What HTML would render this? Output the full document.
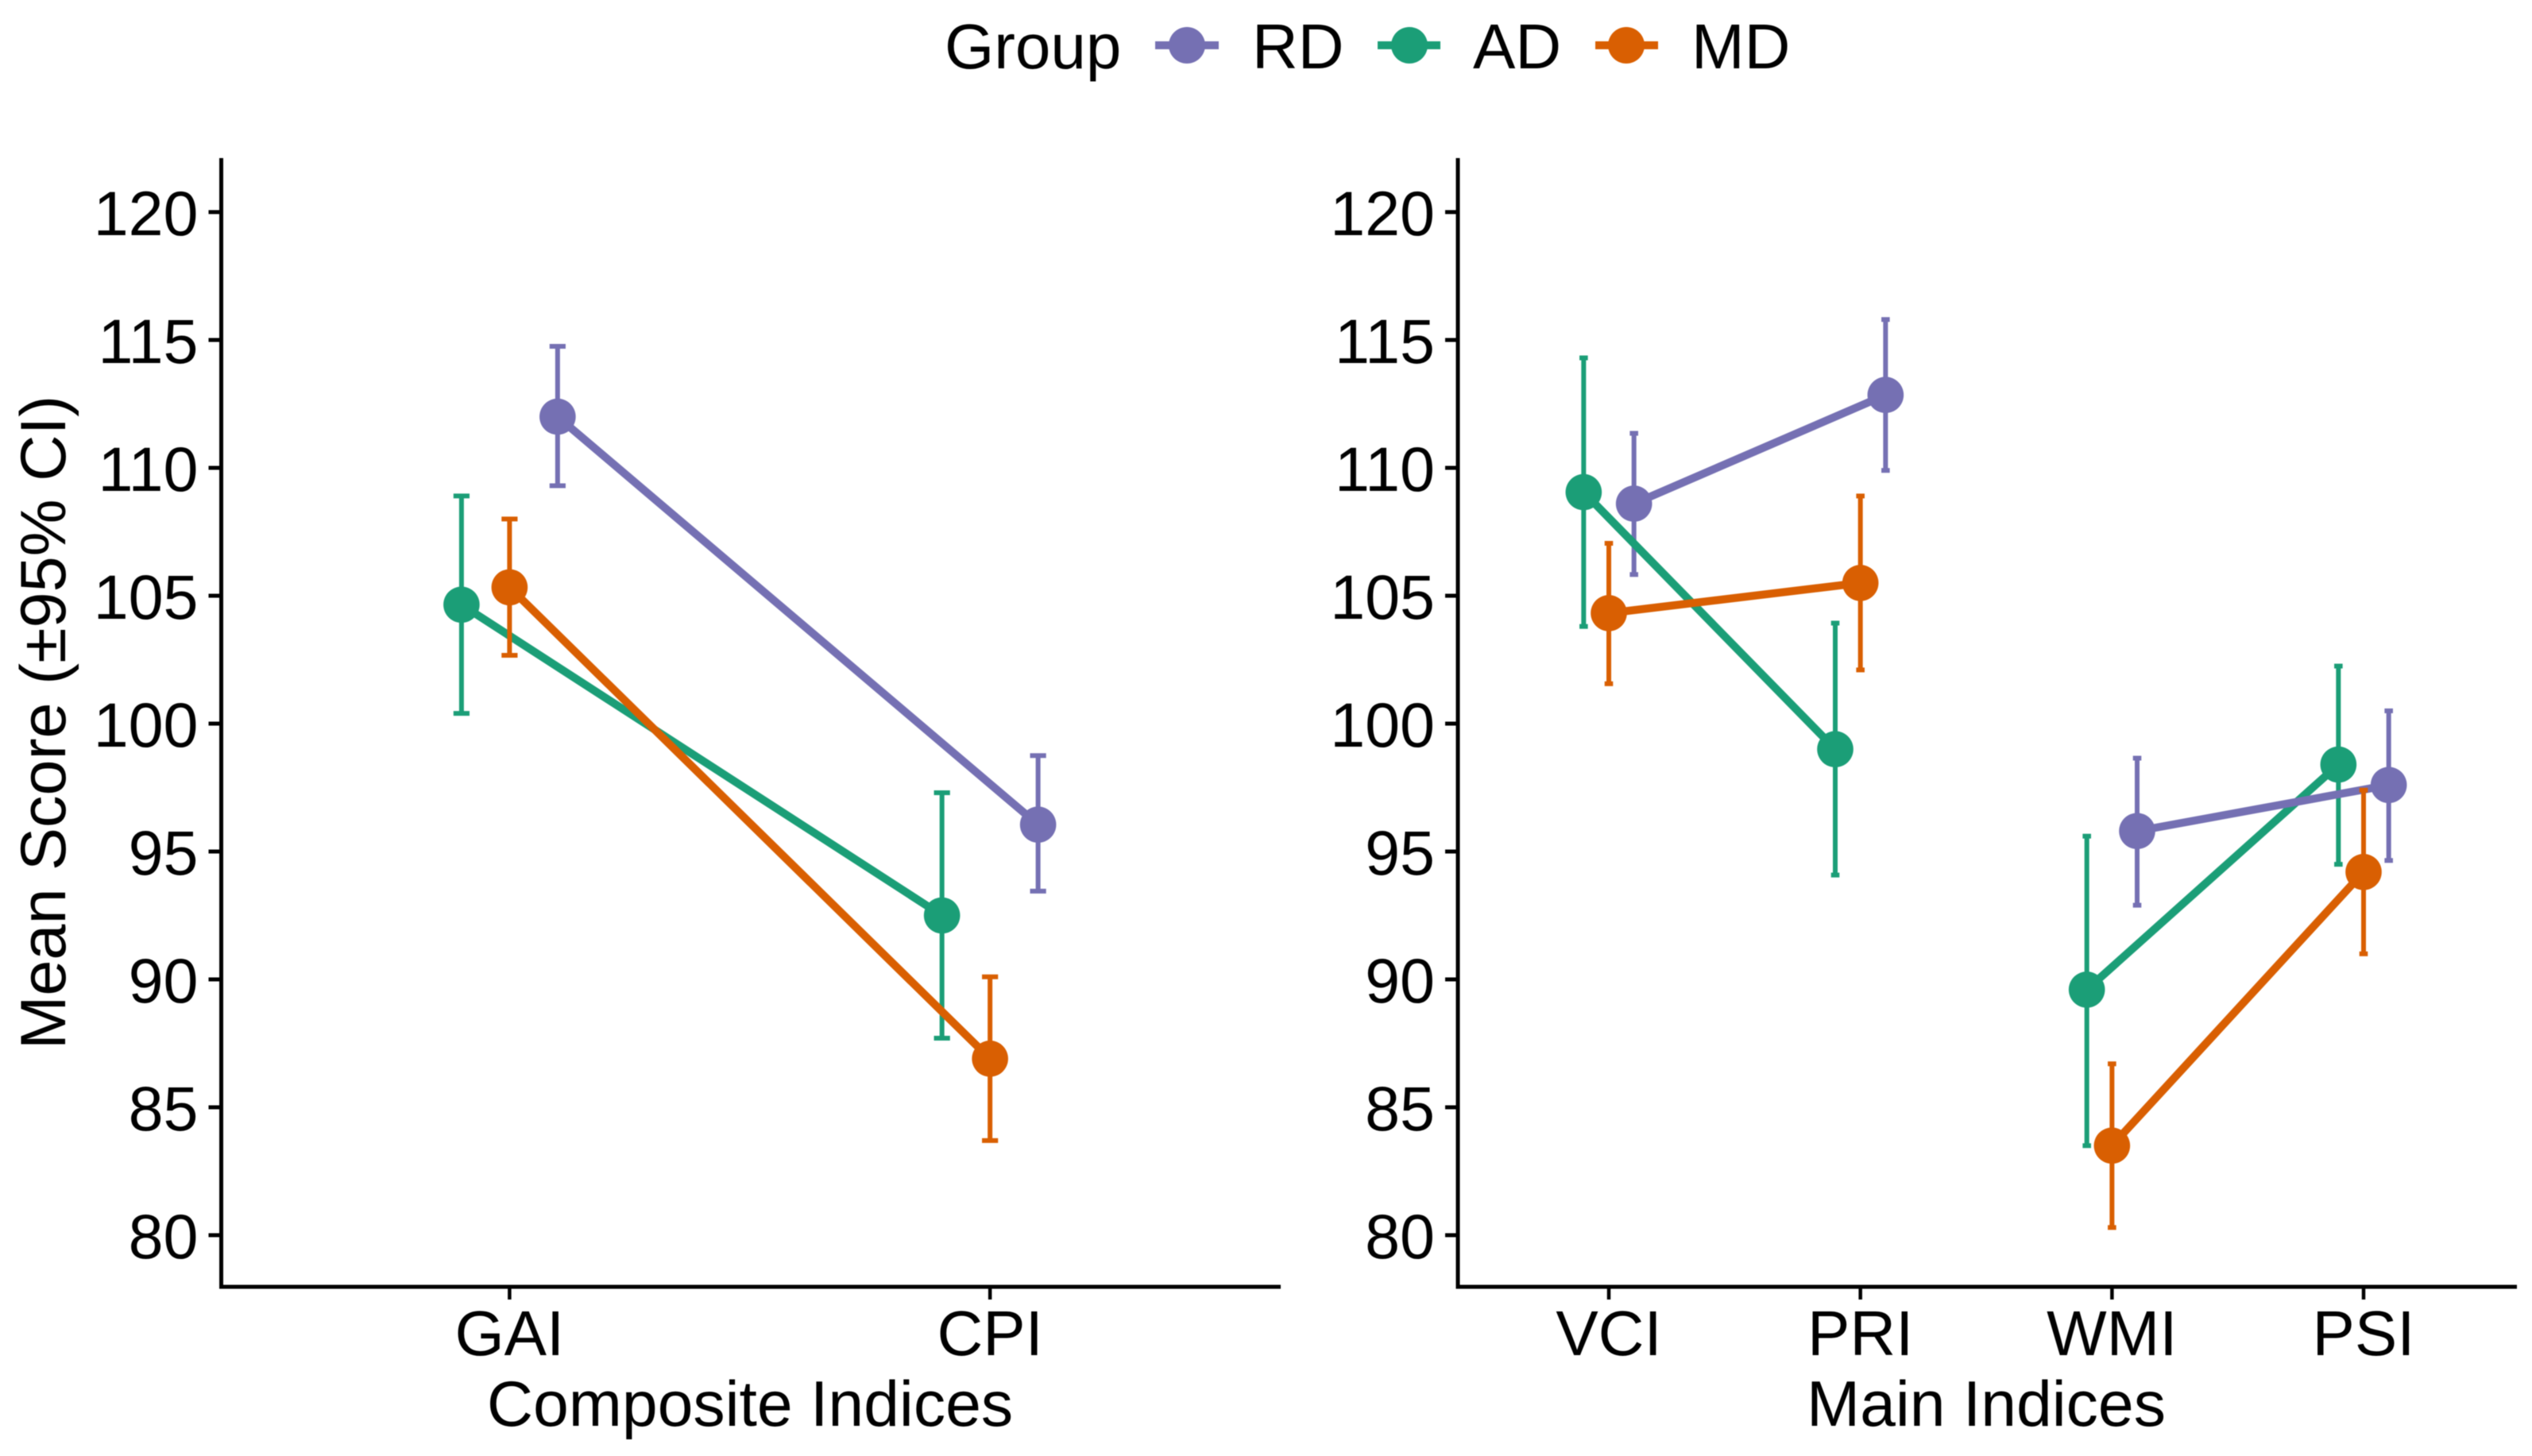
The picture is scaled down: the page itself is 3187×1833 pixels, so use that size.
<!DOCTYPE html>
<html lang="en">
<head>
<meta charset="utf-8">
<title>Mean Score by Group</title>
<style>
html,body{margin:0;padding:0;background:#fff;width:3187px;height:1833px;overflow:hidden}
svg{display:block;filter:blur(0.6px)}
text{font-family:"Liberation Sans",Arial,sans-serif;fill:#000;font-size:80px}
</style>
</head>
<body>
<svg id="chart" xmlns="http://www.w3.org/2000/svg" width="3187" height="1833" viewBox="0 0 3187 1833">
  <rect x="0" y="0" width="3187" height="1833" fill="#ffffff"/>
  <g>
    <text x="1189" y="86">Group</text>
    <g>
      <line x1="1454" x2="1534" y1="57" y2="57" stroke="#7570B3" stroke-width="10"/>
      <circle cx="1494" cy="57" r="23" fill="#7570B3"/>
      <text x="1576" y="86">RD</text>
    </g>
    <g>
      <line x1="1734" x2="1813" y1="57" y2="57" stroke="#1B9E77" stroke-width="10"/>
      <circle cx="1774" cy="57" r="23" fill="#1B9E77"/>
      <text x="1854" y="86">AD</text>
    </g>
    <g>
      <line x1="2008" x2="2087" y1="57" y2="57" stroke="#D95F02" stroke-width="10"/>
      <circle cx="2047" cy="57" r="23" fill="#D95F02"/>
      <text x="2129" y="86">MD</text>
    </g>
  </g>
  <text transform="translate(82,909.5) rotate(-90)" text-anchor="middle" style="font-size:81px">Mean Score (±95% CI)</text>
  <text x="944" y="1795" text-anchor="middle" style="font-size:80.5px">Composite Indices</text>
  <text x="2500" y="1795" text-anchor="middle" style="font-size:80.5px">Main Indices</text>
</svg>
<script>
const yTickValues = [80, 85, 90, 95, 100, 105, 110, 115, 120];

const compositeCategories = ['GAI', 'CPI'];
const compositeConnections = [[0, 1]];
const rdCompositeMean = [112.0, 96.05];
const rdCompositeLow = [109.3, 93.45];
const rdCompositeHigh = [114.75, 98.75];
const adCompositeMean = [104.65, 92.5];
const adCompositeLow = [100.4, 87.7];
const adCompositeHigh = [108.9, 97.3];
const mdCompositeMean = [105.33, 86.9];
const mdCompositeLow = [102.67, 83.7];
const mdCompositeHigh = [108.0, 90.1];

const mainCategories = ['VCI', 'PRI', 'WMI', 'PSI'];
const mainConnections = [[0, 1], [2, 3]];
const rdMainMean = [108.6, 112.85, 95.8, 97.6];
const rdMainLow = [105.83, 109.9, 92.9, 94.65];
const rdMainHigh = [111.35, 115.8, 98.65, 100.5];
const adMainMean = [109.05, 99.0, 89.6, 98.4];
const adMainLow = [103.8, 94.08, 83.5, 94.5];
const adMainHigh = [114.3, 103.93, 95.6, 102.25];
const mdMainMean = [104.32, 105.5, 83.5, 94.2];
const mdMainLow = [101.56, 102.1, 80.3, 91.0];
const mdMainHigh = [107.05, 108.9, 86.7, 97.4];

const svg = document.getElementById('chart');
const NS = 'http://www.w3.org/2000/svg';
const INK = '#000000';
const PLOT_TOP = 199, PLOT_BOTTOM = 1620;
const Y_AT_120 = 267, PX_PER_UNIT = 32.2;

function yScale(v) { return Y_AT_120 + (120 - v) * PX_PER_UNIT; }

function makeBandScale(left, right, count) {
  const unit = (right - left) / (count - 1 + 1.2);
  const scale = function (index, dodge) { return left + (index + 0.6 + dodge) * unit; };
  scale.unit = unit;
  return scale;
}

function shape(parent, tag, attrs) {
  const node = document.createElementNS(NS, tag);
  for (const key in attrs) node.setAttribute(key, attrs[key]);
  parent.appendChild(node);
  return node;
}

function drawAxes(root, panel, left, right, categories, xScale) {
  const yLine = shape(root, 'line', { x1: left, x2: left, y1: PLOT_TOP, y2: PLOT_BOTTOM + 2.5, stroke: INK, 'stroke-width': 5 });
  
  
  const xLine = shape(root, 'line', { x1: left - 2.5, x2: right, y1: PLOT_BOTTOM, y2: PLOT_BOTTOM, stroke: INK, 'stroke-width': 5 });
  
  
  yTickValues.forEach(function (value) {
    const y = yScale(value);
    const tick = shape(root, 'line', { x1: left - 16, x2: left, y1: y, y2: y, stroke: INK, 'stroke-width': 5 });
    
    
    const label = shape(root, 'text', { x: left - 29, y: y + 29, 'text-anchor': 'end', style: 'font-size:79px' });
    label.textContent = value;
    
    
  });
  categories.forEach(function (category, i) {
    const x = xScale(i, 0);
    const tick = shape(root, 'line', { x1: x, x2: x, y1: PLOT_BOTTOM, y2: PLOT_BOTTOM + 16, stroke: INK, 'stroke-width': 4.5 });
    
    
    const label = shape(root, 'text', { x: x, y: 1706, 'text-anchor': 'middle' });
    label.textContent = category;
    
    
  });
}

function drawBars(root, panel, series, xScale, categories) {
  const capHalf = xScale.unit * 0.0167;
  series.low.forEach(function (low, i) {
    const high = series.high[i];
    const x = xScale(i, series.dodge);
    const id = panel + '-' + series.name + '-' + categories[i].toLowerCase();
    const bar = shape(root, 'line', { x1: x, x2: x, y1: yScale(high), y2: yScale(low), stroke: series.color, 'stroke-width': 6 });
    
    
    const capTop = shape(root, 'line', { x1: x - capHalf, x2: x + capHalf, y1: yScale(high), y2: yScale(high), stroke: series.color, 'stroke-width': 6 });
    
    
    const capBottom = shape(root, 'line', { x1: x - capHalf, x2: x + capHalf, y1: yScale(low), y2: yScale(low), stroke: series.color, 'stroke-width': 6 });
    
    
  });
}

function drawLines(root, panel, series, xScale, connections, categories) {
  connections.forEach(function (pair) {
    const a = pair[0], b = pair[1];
    const line = shape(root, 'line', {
      x1: xScale(a, series.dodge), y1: yScale(series.mean[a]),
      x2: xScale(b, series.dodge), y2: yScale(series.mean[b]),
      stroke: series.color, 'stroke-width': 10
    });
    
    
  });
}

function drawPoints(root, panel, series, xScale, categories) {
  series.mean.forEach(function (value, i) {
    const point = shape(root, 'circle', { cx: xScale(i, series.dodge), cy: yScale(value), r: 22.8, fill: series.color });
    
    
  });
}

function drawPanel(panel, left, scaleRight, axisRight, categories, connections, rd, ad, md) {
  const root = shape(svg, 'g', {});
  
  
  const xScale = makeBandScale(left, scaleRight, categories.length);
  drawAxes(root, panel, left, axisRight, categories, xScale);
  drawBars(root, panel, rd, xScale, categories);
  drawBars(root, panel, ad, xScale, categories);
  drawLines(root, panel, ad, xScale, connections, categories);
  drawLines(root, panel, rd, xScale, connections, categories);
  drawBars(root, panel, md, xScale, categories);
  drawLines(root, panel, md, xScale, connections, categories);
  [rd, ad, md].forEach(function (series) { drawPoints(root, panel, series, xScale, categories); });
}

drawPanel('composite', 278.5, 1609, 1612, compositeCategories, compositeConnections,
  { name: 'rd', color: '#7570B3', dodge: 0.1, mean: rdCompositeMean, low: rdCompositeLow, high: rdCompositeHigh },
  { name: 'ad', color: '#1B9E77', dodge: -0.1, mean: adCompositeMean, low: adCompositeLow, high: adCompositeHigh },
  { name: 'md', color: '#D95F02', dodge: 0, mean: mdCompositeMean, low: mdCompositeLow, high: mdCompositeHigh });

drawPanel('main', 1835, 3165, 3168, mainCategories, mainConnections,
  { name: 'rd', color: '#7570B3', dodge: 0.1, mean: rdMainMean, low: rdMainLow, high: rdMainHigh },
  { name: 'ad', color: '#1B9E77', dodge: -0.1, mean: adMainMean, low: adMainLow, high: adMainHigh },
  { name: 'md', color: '#D95F02', dodge: 0, mean: mdMainMean, low: mdMainLow, high: mdMainHigh });
</script>
</body>
</html>
